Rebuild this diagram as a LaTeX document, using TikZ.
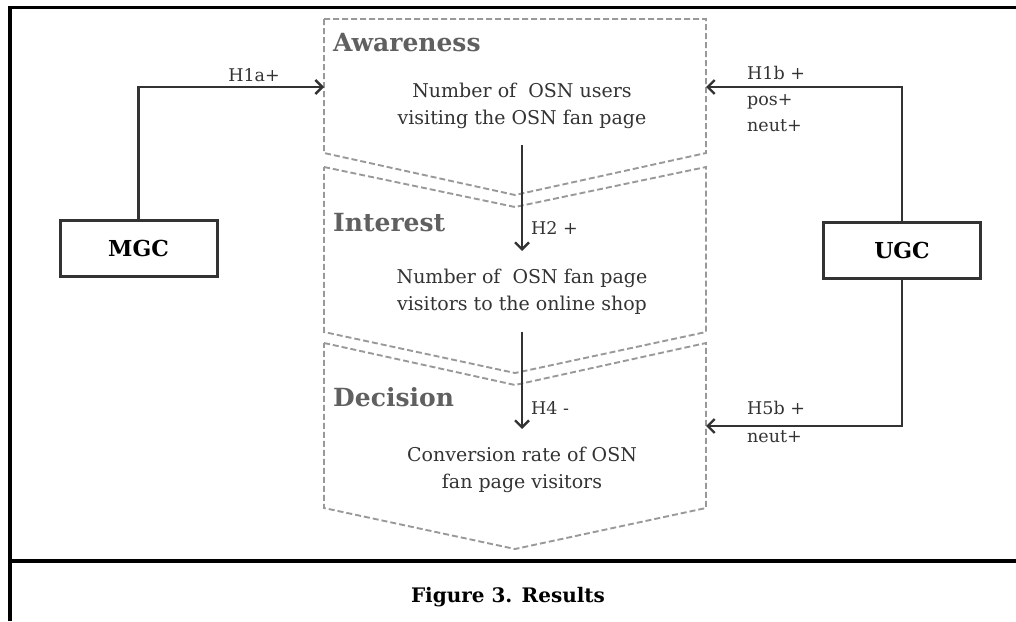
\documentclass[tikz,border=0pt]{standalone}
\usepackage{fontspec}
\setmainfont{DejaVu Serif}
\usetikzlibrary{arrows.meta}
\definecolor{dk}{HTML}{333333}
\definecolor{gr}{HTML}{999999}
\definecolor{lbl}{HTML}{606060}
\tikzset{
  chev/.style={draw=gr, line width=1.9pt, dash pattern=on 6pt off 3pt},
  stage/.style={font=\fontsize{25}{29}\selectfont\bfseries, text=lbl, anchor=west, inner sep=0pt},
  body/.style={font=\fontsize{19}{27}\selectfont, text=dk, align=center, inner sep=0pt},
  hyp/.style={font=\fontsize{17.5}{20}\selectfont, text=dk, inner sep=0pt},
  srcbox/.style={draw=dk, line width=3pt, minimum width=157pt, minimum height=56pt, font=\fontsize{22}{24}\selectfont\bfseries, text=black},
  conn/.style={draw=dk, line width=2.8pt, -{Straight Barb[length=7pt,width=14pt,line width=2.4pt]}},
  frame/.style={line width=3.6pt, black}
}
\begin{document}
\begin{tikzpicture}[x=1pt,y=-1pt]
\useasboundingbox (0,0) rectangle (1016,621);
% frame
\draw[frame] (10,621) -- (10,7.5) -- (1016,7.5);
\draw[frame] (10,561) -- (1016,561);
% chevrons
\draw[chev] (324,19) -- (706,19) -- (706,153) -- (515,195) -- (324,153) -- cycle;
\draw[chev] (324,167) -- (515,207) -- (706,167) -- (706,332) -- (515,373) -- (324,332) -- cycle;
\draw[chev] (324,343) -- (515,385) -- (706,343) -- (706,508) -- (515,549) -- (324,508) -- cycle;
\coordinate (awW) at (324,87);
\coordinate (awE) at (706,87);
\coordinate (decE) at (706,426);
\coordinate (a1s) at (522,145);
\coordinate (a1e) at (522,251);
\coordinate (a2s) at (522,332);
\coordinate (a2e) at (522,429);
% stage labels
\node[stage] (lAw) at (333,43) {Awareness};
\node[stage] (lIn) at (333,223) {Interest};
\node[stage] (lDe) at (333,397) {Decision};
% texts
\node[body] (tAw) at (522,106) {Number of\ \ OSN users\\visiting the OSN fan page};
\node[body] (tIn) at (522,292) {Number of\ \ OSN fan page\\visitors to the online shop};
\node[body] (tDe) at (522,470) {Conversion rate of OSN\\fan page visitors};
% vertical arrows
\draw[conn] (a1s) -- (a1e);
\draw[conn] (a2s) -- (a2e);
\node[hyp, anchor=west] (h2) at (531,228) {H2 +};
\node[hyp, anchor=west] (h4) at (531,408) {H4 -};
% source boxes
\node[srcbox] (mgc) at (138.5,248.5) {MGC};
\node[srcbox] (ugc) at (902,250.5) {UGC};
\draw[conn] (mgc.north) |- (awW);
\draw[conn] (ugc.north) |- (awE);
\draw[conn] (ugc.south) |- (decE);
\node[hyp] (h1a) at (254,75) {H1a+};
\node[hyp, anchor=base west] (h1b) at (747,79) {H1b +};
\node[hyp, anchor=base west] (pos1) at (747,105) {pos+};
\node[hyp, anchor=base west] (neu1) at (747,131) {neut+};
\node[hyp, anchor=base west] (h5b) at (747,414) {H5b +};
\node[hyp, anchor=base west] (neu2) at (747,442) {neut+};
% caption
\node[font=\fontsize{20}{22}\selectfont\bfseries, text=black] (cap) at (508,597) {Figure 3. Results};
\end{tikzpicture}
\end{document}
